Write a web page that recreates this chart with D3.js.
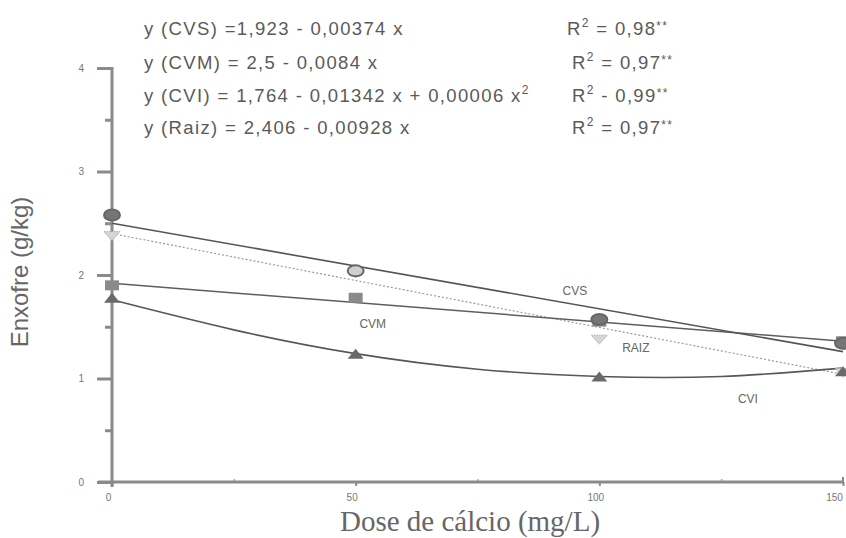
<!DOCTYPE html>
<html><head><meta charset="utf-8">
<script src="https://cdn.jsdelivr.net/npm/d3@7"></script>
<style>
html,body{margin:0;padding:0;background:#fff;}
svg{display:block;}
</style></head>
<body>
<svg id="chart" width="846" height="538"></svg>
<script>
// ---- data ----
const doses = [0, 50, 100, 150];
const cvs  = [2.58, 2.04, 1.57, 1.34];
const cvm  = [1.90, 1.78, 1.55, 1.36];
const cvi  = [1.78, 1.24, 1.02, 1.07];
const raiz = [2.38, 2.02, 1.38, 1.06];

const fitLinX = [0, 150];
const fitCvs  = [2.50, 1.26];
const fitCvm  = [1.92, 1.36];
const fitRaiz = [2.40, 1.04];
const fitCviX = [0, 25, 50, 75, 100, 125, 150];
const fitCvi  = [1.76, 1.47, 1.24, 1.09, 1.02, 1.02, 1.10];

const yTicks = [0, 1, 2, 3, 4];
const yMinor = [0.5, 1.5, 2.5, 3.5];
const xTicks = [0, 50, 100, 150];
const xMinor = [25, 75, 125];

const seriesNames = ["CVS", "CVM", "RAIZ", "CVI"];
const seriesLabelX = [95, 53.5, 107.5, 130.5];
const seriesLabelY = [1.84, 1.52, 1.29, 0.79];

const eqNames = ["CVS", "CVM", "CVI", "Raiz"];
const eqRight = [" =1,923 - 0,00374 x", " = 2,5 - 0,0084 x", " = 1,764 - 0,01342 x + 0,00006 x", " = 2,406 - 0,00928 x"];
const r2Ops = ["=", "=", "-", "="];
const r2Vals = ["0,98", "0,97", "0,99", "0,97"];

// ---- drawing ----
const svg = d3.select("#chart");
const x = d3.scaleLinear().domain([0, 150]).range([112, 843]);
const y = d3.scaleLinear().domain([0, 4]).range([482, 68]);

const axisCol = "#8a8a8a";
const txtCol = "#5a5a5a";

// y axis
const yAxis = svg.append("g").attr("transform", `translate(${x(0)},0)`)
  .call(d3.axisLeft(y).tickValues(yTicks).tickSize(15).tickPadding(13).tickFormat(d3.format("d")));
yAxis.select(".domain").remove();
yAxis.selectAll(".tick line").attr("stroke", axisCol).attr("stroke-width", 3);
yAxis.selectAll(".tick text").attr("fill", "#777").attr("font-family", "Liberation Sans, Arial, sans-serif").attr("font-size", 10);
svg.append("g").attr("transform", `translate(${x(0)},0)`)
  .call(d3.axisLeft(y).tickValues(yMinor).tickSize(7).tickFormat(""))
  .call(g => g.select(".domain").remove())
  .selectAll(".tick line").attr("stroke", axisCol).attr("stroke-width", 3);
svg.append("line").attr("x1", x(0)).attr("x2", x(0)).attr("y1", y(4) - 1).attr("y2", y(0) + 5)
  .attr("stroke", axisCol).attr("stroke-width", 3);

// x axis
const xAxis = svg.append("g").attr("transform", `translate(0,${y(0)})`)
  .call(d3.axisBottom(x).tickValues(xTicks).tickSize(4).tickPadding(8).tickFormat(d3.format("d")));
xAxis.select(".domain").remove();
xAxis.selectAll(".tick line").attr("stroke", axisCol).attr("stroke-width", 2);
xAxis.selectAll(".tick text").attr("fill", "#777").attr("font-family", "Liberation Sans, Arial, sans-serif").attr("font-size", 10)
  .attr("dx", d => d === 150 ? -9 : -4);
svg.append("g").attr("transform", `translate(0,${y(0)})`)
  .call(d3.axisTop(x).tickValues(xMinor).tickSize(3).tickFormat(""))
  .call(g => g.select(".domain").remove())
  .selectAll(".tick line").attr("stroke", "#aaa").attr("stroke-width", 1.5);
svg.append("line").attr("x1", x(0) - 14).attr("x2", x(150)).attr("y1", y(0)).attr("y2", y(0))
  .attr("stroke", axisCol).attr("stroke-width", 3);
svg.append("line").attr("x1", x(150)).attr("x2", x(150)).attr("y1", y(0)).attr("y2", y(0) - 5)
  .attr("stroke", axisCol).attr("stroke-width", 2);

// axis titles
svg.append("text").attr("transform", `translate(28,${(y(0) + y(4)) / 2 - 3}) rotate(-90)`)
  .attr("text-anchor", "middle").attr("fill", "#666")
  .attr("font-family", "Liberation Sans, Arial, sans-serif").attr("font-size", 24)
  .text("Enxofre (g/kg)");
svg.append("text").attr("x", 470).attr("y", 531).attr("text-anchor", "middle").attr("fill", "#666")
  .attr("font-family", "Liberation Serif, Times New Roman, serif").attr("font-size", 29)
  .text("Dose de cálcio (mg/L)");

// fit lines
const line = d3.line().x(d => x(d[0])).y(d => y(d[1]));
const lineCurve = d3.line().x(d => x(d[0])).y(d => y(d[1])).curve(d3.curveNatural);
svg.append("path").attr("d", line(d3.zip(fitLinX, fitRaiz))).attr("fill", "none")
  .attr("stroke", "#9a9a9a").attr("stroke-width", 1.2).attr("stroke-dasharray", "2,2");
svg.append("path").attr("d", line(d3.zip(fitLinX, fitCvm))).attr("fill", "none")
  .attr("stroke", "#5e5e5e").attr("stroke-width", 1.5);
svg.append("path").attr("d", line(d3.zip(fitLinX, fitCvs))).attr("fill", "none")
  .attr("stroke", "#555").attr("stroke-width", 1.6);
svg.append("path").attr("d", lineCurve(d3.zip(fitCviX, fitCvi))).attr("fill", "none")
  .attr("stroke", "#5a5360").attr("stroke-width", 1.6);

// markers
const g = svg.append("g");
g.selectAll(".raiz").data(d3.zip(doses, raiz)).join("path")
  .attr("transform", d => `translate(${x(d[0])},${y(d[1])})`)
  .attr("d", "M-8,-4 L8,-4 L0,5 Z")
  .attr("fill", "#d6d6d6").attr("stroke", "#aaa").attr("stroke-width", 1).attr("stroke-dasharray", "1.5,1");
g.selectAll(".cvi").data(d3.zip(doses, cvi)).join("path")
  .attr("transform", d => `translate(${x(d[0])},${y(d[1])})`)
  .attr("d", "M-8,5 L8,5 L0,-5 Z")
  .attr("fill", "#6a6a6a");
g.selectAll(".cvm").data(d3.zip(doses, cvm)).join("rect")
  .attr("x", d => x(d[0]) - 7).attr("y", d => y(d[1]) - 5)
  .attr("width", 14).attr("height", 10)
  .attr("fill", "#8a8a8a");
g.selectAll(".cvs").data(d3.zip(doses, cvs)).join("ellipse")
  .attr("cx", d => x(d[0])).attr("cy", d => y(d[1]))
  .attr("rx", 8).attr("ry", 5.5)
  .attr("fill", (d, i) => i === 1 ? "#cfcfcf" : "#767676")
  .attr("stroke", "#666").attr("stroke-width", 2);

// series labels
svg.selectAll(".slab").data(seriesNames).join("text")
  .attr("x", (d, i) => x(seriesLabelX[i])).attr("y", (d, i) => y(seriesLabelY[i]))
  .attr("text-anchor", "middle").attr("dominant-baseline", "middle")
  .attr("fill", "#666").attr("font-family", "Liberation Sans, Arial, sans-serif").attr("font-size", 12)
  .text(d => d);

// equations
const eqY = [35, 69, 102, 134];
const eqG = svg.append("g").attr("font-family", "Liberation Sans, Arial, sans-serif").attr("fill", txtCol);
eqNames.forEach((n, i) => {
  const t = eqG.append("text").attr("x", 144).attr("y", eqY[i]).attr("font-size", 18.5).attr("letter-spacing", 1.35);
  t.append("tspan").text(`y (${n})` + eqRight[i]);
  if (i === 2) t.append("tspan").attr("font-size", 12).attr("dy", -8).text("2");
  const r = eqG.append("text").attr("x", i === 0 ? 567 : 572).attr("y", eqY[i]).attr("font-size", 18.5).attr("letter-spacing", 1.35);
  r.append("tspan").text("R");
  r.append("tspan").attr("font-size", 12).attr("dy", -8).text("2");
  r.append("tspan").attr("dy", 8).text(` ${r2Ops[i]} ${r2Vals[i]}`);
  r.append("tspan").attr("font-size", 12).attr("dy", -5).text("**");
});
</script>
</body></html>
